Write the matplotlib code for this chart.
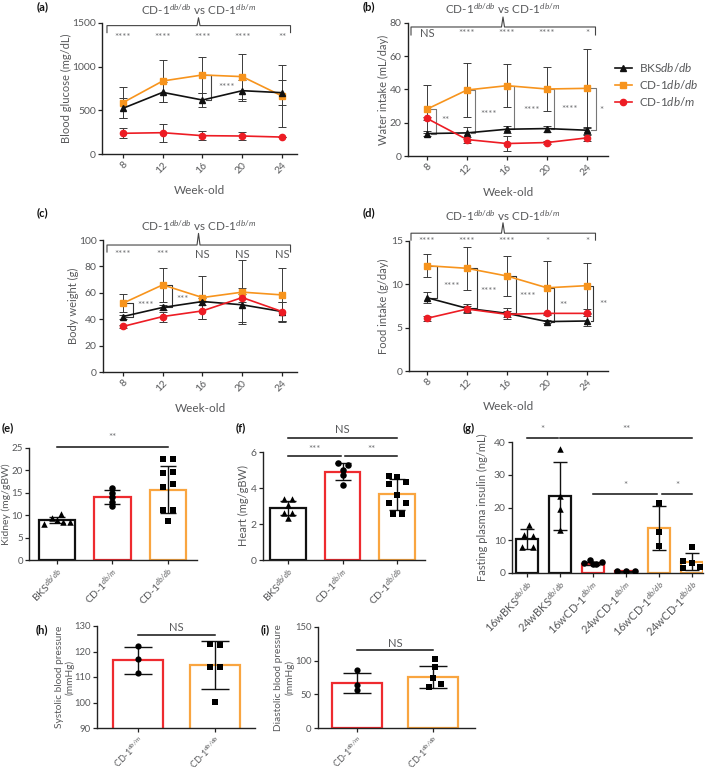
import matplotlib
matplotlib.use('Agg')
import matplotlib.pyplot as plt
import numpy as np
from matplotlib.lines import Line2D

# ---------------- data ----------------
weeks = [8, 12, 16, 20, 24]

# (a) blood glucose (mg/dL)
glu_bks = [523, 706, 618, 725, 702]
glu_bks_err = [115, 115, 85, 120, 145]
glu_dbdb = [588, 836, 905, 886, 664]
glu_dbdb_err = [175, 240, 202, 255, 360]
glu_dbm = [237, 244, 210, 206, 194]
glu_dbm_err = [57, 105, 55, 50, 0]
glu_top_sig = ['****', '****', '****', '****', '**']

# (b) water intake (mL/day)
wat_bks = [13.5, 13.9, 16.1, 16.5, 15.5]
wat_bks_err = [1.5, 3.5, 2.0, 1.8, 2.0]
wat_dbdb = [28.2, 39.7, 42.3, 40.3, 40.7]
wat_dbdb_err = [14.5, 16.5, 12.9, 13.1, 23.6]
wat_dbm = [22.6, 9.9, 7.5, 8.1, 10.9]
wat_dbm_err = [1.0, 1.8, 4.4, 0.8, 1.6]
wat_top_sig = ['NS', '****', '****', '****', '*']
wat_side_sig = ['**', '****', '****', '****', '*']

# (c) body weight (g)
bw_bks = [42.0, 48.9, 53.4, 50.9, 45.8]
bw_bks_err = [1.5, 2.0, 3.0, 13.0, 7.3]
bw_dbdb = [52.1, 66.0, 56.4, 60.5, 58.4]
bw_dbdb_err = [7.0, 12.6, 16.6, 24.4, 20.6]
bw_dbm = [34.5, 42.0, 46.3, 56.4, 45.8]
bw_dbm_err = [1.0, 3.8, 6.5, 3.0, 7.0]
bw_top_sig = ['****', '***', 'NS', 'NS', 'NS']
bw_side_sig = ['****', '***']

# (d) food intake (g/day)
fd_bks = [8.46, 7.23, 6.65, 5.70, 5.77]
fd_bks_err = [0.6, 0.47, 0.6, 0.2, 0.55]
fd_dbdb = [12.15, 11.85, 10.96, 9.6, 9.85]
fd_dbdb_err = [1.35, 2.45, 2.3, 3.1, 2.65]
fd_dbm = [6.08, 7.15, 6.54, 6.65, 6.65]
fd_dbm_err = [0.3, 0.4, 0.35, 0.1, 0.1]
fd_top_sig = ['****', '****', '****', '*', '*']
fd_side_sig = ['****', '****', '****', '**', '**']

# (e) kidney (mg/gBW)
grp3 = [r'BKS$^{db/db}$', r'CD-1$^{db/m}$', r'CD-1$^{db/db}$']
kid_mean = [9.0, 14.0, 15.7]
kid_sd = [0.7, 1.6, 5.3]
kid_pts = [[8.0, 9.3, 10.2, 8.4, 9.0, 8.5],
           [16.0, 15.0, 14.0, 13.0, 12.0],
           [22.6, 22.6, 19.5, 19.7, 16.2, 16.9, 11.2, 11.2, 8.6]]

# (f) heart (mg/gBW)
hrt_mean = [2.88, 4.9, 3.65]
hrt_sd = [0.4, 0.48, 0.87]
hrt_pts = [[3.4, 3.4, 3.05, 2.6, 2.6, 2.34],
           [5.39, 5.3, 4.98, 4.7, 4.19],
           [4.65, 4.61, 4.24, 4.34, 3.63, 3.14, 3.14, 2.53, 2.53]]

# (g) fasting plasma insulin (ng/mL)
grp6 = [r'16wBKS$^{db/db}$', r'24wBKS$^{db/db}$', r'16wCD-1$^{db/m}$',
        r'24wCD-1$^{db/m}$', r'16wCD-1$^{db/db}$', r'24wCD-1$^{db/db}$']
ins_mean = [10.4, 23.5, 2.85, 0.5, 13.8, 3.5]
ins_sd = [3.0, 10.4, 0.4, 0.1, 6.8, 2.6]
ins_pts = [[14.8, 11.6, 11.3, 7.8, 7.9],
           [38.0, 23.5, 19.5, 13.0],
           [3.0, 4.1, 2.9, 3.4, 2.6],
           [0.6, 0.6, 0.6],
           [21.5, 12.4, 8.2],
           [7.8, 3.8, 3.0, 1.5, 1.9]]

# (h) systolic / (i) diastolic blood pressure (mmHg)
grp2 = [r'CD-1$^{db/m}$', r'CD-1$^{db/db}$']
sbp_mean = [116.6, 114.7]
sbp_sd = [5.3, 9.3]
sbp_pts = [[122.2, 116.9, 111.7], [123.1, 122.7, 114.0, 114.0, 100.1]]
dbp_mean = [67.4, 76.2]
dbp_sd = [14.7, 16.5]
dbp_pts = [[86.0, 64.0, 56.6], [101.8, 90.0, 73.8, 65.0, 61.5]]

# ---------------- layout / style constants ----------------
kid_off = [[-0.23, -0.08, 0.08, 0.24, 0.0, 0.12], [0, 0, 0, 0, 0],
           [-0.09, 0.09, -0.09, 0.09, -0.09, 0.09, -0.09, 0.09, 0.0]]
hrt_off = [[-0.07, 0.08, 0.0, -0.07, 0.08, 0.0], [-0.09, 0.09, 0, 0, 0],
           [-0.15, 0.0, -0.15, 0.16, 0.0, -0.15, 0.16, -0.08, 0.08]]
ins_off = [[0.05, -0.1, 0.18, -0.15, 0.18], [0, 0, 0, 0],
           [-0.27, -0.1, 0.08, 0.27, 0.0], [-0.27, 0, 0.27], [0, 0, 0],
           [0.0, -0.27, 0.0, -0.27, 0.24]]
sbp_off = [[0, 0, 0], [-0.06, 0.06, -0.06, 0.06, 0.0]]
dbp_off = [[0, 0, 0], [0.02, 0.02, 0.0, 0.1, -0.06]]

BLACK = '#111111'
ORANGE = '#F7941D'
RED = '#ED1C24'
ORANGE_B = '#F9A540'
RED_B = '#EE2B2F'
GRAY = '#58595B'
STAR = '#6D6E71'

plt.rcParams.update({
    'font.family': ['Lato', 'DejaVu Sans'],
    'font.size': 7.5,
    'mathtext.fontset': 'custom',
    'mathtext.rm': 'Lato',
    'mathtext.it': 'Lato:italic',
    'mathtext.bf': 'Lato:bold',
    'axes.linewidth': 1.0,
    'axes.edgecolor': '#222222',
})

W, H = 709, 771
fig = plt.figure(figsize=(W / 100, H / 100), dpi=100)


def add_ax(l, r, t, b):
    return fig.add_axes([l / W, 1 - b / H, (r - l) / W, (b - t) / H])


def style(ax, lsize=7.5):
    ax.spines['top'].set_visible(False)
    ax.spines['right'].set_visible(False)
    ax.tick_params(length=3, width=0.9, colors='#222222', labelcolor=GRAY,
                   labelsize=lsize, pad=1.5)


def set_ylab(ax, text, x, fs=8, ls=1.3):
    ax.set_ylabel(text, color=GRAY, fontsize=fs, linespacing=ls)
    ax.yaxis.set_label_coords(x, 0.5)
    ax.yaxis.label.set_va('center')


def panel_label(txt, x, y):
    fig.text(x / W, 1 - y / H, txt, fontsize=8, fontweight='bold',
             ha='left', va='center', color='#111111')


def line_panel(ax, series, xlim, ylim, yticks, ylabel, ylx, top_sig,
               y_line, y_end, y_peak, y_title, y_stars, side=None):
    style(ax)
    for y, e, c, m in series:
        ax.errorbar(weeks, y, yerr=e, color=c, marker=m, ms=4.5, lw=1.2,
                    ecolor='#3a3a3a', elinewidth=0.7, capsize=3,
                    capthick=0.7, zorder=3)
    ax.set_xlim(*xlim)
    ax.set_ylim(*ylim)
    ax.set_yticks(yticks)
    ax.set_xticks(weeks)
    ax.set_xticklabels([str(w) for w in weeks], rotation=45, ha='right',
                       va='top', rotation_mode='anchor')
    set_ylab(ax, ylabel, ylx)
    ax.set_xlabel('Week-old', color=GRAY, fontsize=8.5)
    ax.xaxis.set_label_coords(0.5, -0.275)
    ax.xaxis.label.set_va('center')
    x0, x1, xm = 6.4, 24.85, 15.6
    ax.plot([x0, x0, xm - 0.15, xm, xm + 0.15, x1, x1],
            [y_end, y_line, y_line, y_peak, y_line, y_line, y_end],
            color='#444444', lw=0.8, clip_on=False)
    ax.text(xm, y_title, r'CD-1$^{db/db}$ vs CD-1$^{db/m}$', ha='center',
            va='center', fontsize=8.5, color=GRAY, clip_on=False)
    for w, s in zip(weeks, top_sig):
        if s == 'NS':
            ax.text(w, y_stars, s, ha='center', va='center', fontsize=8,
                    color=GRAY)
        else:
            ax.text(w, y_stars, s, ha='center', va='center', fontsize=7,
                    color=STAR)
    if side:
        for (w, ya, yb, xv, lab, lx, ly, col) in side:
            ax.plot([w + 0.35, xv, xv, w + 0.35], [ya, ya, yb, yb],
                    color=col, lw=0.8, clip_on=False, zorder=2)
            ax.text(lx, ly, lab, ha='center', va='center', fontsize=7,
                    color=STAR, clip_on=False)


# ---- (a)
ax = add_ax(102, 297, 23, 154)
line_panel(ax, [(glu_dbdb, glu_dbdb_err, ORANGE, 's'),
                (glu_bks, glu_bks_err, BLACK, '^'),
                (glu_dbm, glu_dbm_err, RED, 'o')],
           (5.9, 25.5), (0, 1500), [0, 500, 1000, 1500],
           'Blood glucose (mg/dL)', -0.18, glu_top_sig,
           1470, 1390, 1560, 1650, 1330,
           side=[(16, glu_dbdb[2], glu_bks[2], 16.9, '****', 18.4, 760, '#444444')])
panel_label('(a)', 37, 7)

# ---- (b)
ax = add_ax(408, 608, 23, 156)
gb = '#777777'
sides_b = []
xv_b = [8.9, 12.8, 16.7, 20.7, 24.9]
lx_b = [9.8, 14.2, 18.5, 22.3, 25.4]
ly_b = [21.5, 25.0, 27.5, 28.0, 27.5]
for i, w in enumerate(weeks):
    sides_b.append((w, wat_dbdb[i], wat_bks[i], xv_b[i], wat_side_sig[i],
                    lx_b[i], ly_b[i], gb))
line_panel(ax, [(wat_dbdb, wat_dbdb_err, ORANGE, 's'),
                (wat_bks, wat_bks_err, BLACK, '^'),
                (wat_dbm, wat_dbm_err, RED, 'o')],
           (6.1, 26.1), (0, 80), [0, 20, 40, 60, 80],
           'Water intake (mL/day)', -0.125, wat_top_sig,
           77.6, 72.8, 83.6, 88.5, 73.5, side=sides_b)
handles = [Line2D([], [], color=BLACK, marker='^', ms=4.5, lw=1.2),
           Line2D([], [], color=ORANGE, marker='s', ms=4.5, lw=1.2),
           Line2D([], [], color=RED, marker='o', ms=4.5, lw=1.2)]
ax.legend(handles, [r'BKS$db/db$', r'CD-1$db/db$', r'CD-1$db/m$'],
          loc='upper left', bbox_to_anchor=(1.0, 0.77), frameon=False,
          fontsize=8.5, handlelength=1.4, handletextpad=0.6,
          labelspacing=0.35, labelcolor=GRAY, borderaxespad=0.2)
panel_label('(b)', 363, 7)

# ---- (c)
ax = add_ax(103, 297, 240, 372)
line_panel(ax, [(bw_dbdb, bw_dbdb_err, ORANGE, 's'),
                (bw_bks, bw_bks_err, BLACK, '^'),
                (bw_dbm, bw_dbm_err, RED, 'o')],
           (6.0, 25.5), (0, 100), [0, 20, 40, 60, 80, 100],
           'Body weight (g)', -0.15, bw_top_sig,
           96.2, 90.9, 105, 111, 89.0,
           side=[(8, bw_dbdb[0], bw_bks[0], 9.0, bw_side_sig[0], 10.3, 50.5, '#333333'),
                 (12, bw_dbdb[1], bw_bks[1], 12.9, bw_side_sig[1], 14.0, 55.0, '#333333')])
panel_label('(c)', 37, 213)

# ---- (d)
ax = add_ax(409, 608, 241, 371)
sides_d = []
xv_d = [9.0, 13.0, 16.9, 20.7, 24.6]
lx_d = [10.5, 14.2, 18.1, 21.6, 25.6]
ly_d = [9.8, 9.2, 8.6, 7.6, 7.7]
for i, w in enumerate(weeks):
    sides_d.append((w, fd_dbdb[i], fd_bks[i], xv_d[i], fd_side_sig[i],
                    lx_d[i], ly_d[i], '#333333'))
line_panel(ax, [(fd_dbdb, fd_dbdb_err, ORANGE, 's'),
                (fd_bks, fd_bks_err, BLACK, '^'),
                (fd_dbm, fd_dbm_err, RED, 'o')],
           (6.2, 26.1), (0, 15), [0, 5, 10, 15],
           'Food intake (g/day)', -0.13, fd_top_sig,
           15.9, 15.1, 17.1, 17.9, 14.9, side=sides_d)
panel_label('(d)', 363, 213)


# ---------------- bar panels ----------------
def bar_panel(ax, means, sds, pts, offs, markers, ecs, labels, xlim, ylim,
              yticks, ylabel, ylx, capsize, msize, width=0.65, lfs=7.5,
              yfs=8, tfs=7.5, ls=1.3):
    style(ax, tfs)
    x = np.arange(len(means))
    ax.bar(x, means, width=width, facecolor='white', edgecolor=ecs, lw=1.6,
           zorder=1)
    ax.errorbar(x, means, yerr=sds, fmt='none', ecolor='#111111',
                elinewidth=1.0, capsize=capsize, capthick=1.0, zorder=2)
    for i in range(len(means)):
        ax.scatter(x[i] + np.array(offs[i]), pts[i], marker=markers[i],
                   s=msize, color='#000000', zorder=3, linewidths=0)
    ax.set_xlim(*xlim)
    ax.set_ylim(*ylim)
    ax.set_yticks(yticks)
    ax.set_xticks(x)
    ax.set_xticklabels(labels, rotation=45, ha='right', va='top',
                       rotation_mode='anchor', fontsize=lfs)
    set_ylab(ax, ylabel, ylx, fs=yfs, ls=ls)


def sig_line(ax, xa, xb, y, txt, ty, fs=7, col=STAR):
    ax.plot([xa, xb], [y, y], color='#111111', lw=1.1, clip_on=False)
    ax.text((xa + xb) / 2, ty, txt, ha='center', va='center', fontsize=fs,
            color=col, clip_on=False)


# ---- (e)
ax = add_ax(29, 197, 448, 560)
bar_panel(ax, kid_mean, kid_sd, kid_pts, kid_off, ['^', 'o', 's'],
          [BLACK, RED_B, ORANGE_B], grp3, (-0.5, 2.52), (0, 25),
          [0, 5, 10, 15, 20, 25], 'Kidney (mg/gBW)', -0.137, 6, 22,
          yfs=7.5, tfs=7)
sig_line(ax, 0, 2, 25.3, '**', 27.3)
panel_label('(e)', 2, 428)

# ---- (f)
ax = add_ax(263, 425, 452, 560)
bar_panel(ax, hrt_mean, hrt_sd, hrt_pts, hrt_off, ['^', 'o', 's'],
          [BLACK, RED_B, ORANGE_B], grp3, (-0.46, 2.51), (0, 6),
          [0, 2, 4, 6], 'Heart (mg/gBW)', -0.123, 6, 22)
sig_line(ax, 0, 2, 6.78, 'NS', 7.25, fs=8, col=GRAY)
sig_line(ax, 0, 0.97, 5.78, '***', 6.15)
sig_line(ax, 1.05, 2, 5.78, '**', 6.15)
panel_label('(f)', 236, 428)

# ---- (g)
ax = add_ax(512, 703, 442, 573)
bar_panel(ax, ins_mean, ins_sd, ins_pts, ins_off,
          ['^', '^', 'o', 'o', 's', 's'],
          [BLACK, BLACK, RED_B, RED_B, ORANGE_B, ORANGE_B], grp6,
          (-0.45, 5.33), (0, 40), [0, 10, 20, 30, 40],
          'Fasting plasma insulin (ng/mL)', -0.152, 5, 22, lfs=8)
sig_line(ax, 0, 0.94, 41.2, '*', 43.8)
sig_line(ax, 1.0, 5.0, 41.2, '**', 43.8)
sig_line(ax, 2.0, 3.95, 24.1, '*', 26.6)
sig_line(ax, 4.1, 5.0, 24.1, '*', 26.6)
panel_label('(g)', 463, 428)

# ---- (h)
ax = add_ax(97, 255, 626, 728)
bar_panel(ax, sbp_mean, sbp_sd, sbp_pts, sbp_off, ['o', 's'],
          [RED_B, ORANGE_B], grp2, (-0.53, 1.52), (90, 130),
          [90, 100, 110, 120, 130], 'Systolic blood pressure\n(mmHg)',
          -0.205, 10, 20, lfs=6.5, yfs=7.3, tfs=6.8, ls=1.15)
sig_line(ax, 0, 1, 126.5, 'NS', 129.3, fs=8, col=GRAY)
panel_label('(h)', 36, 630)

# ---- (i)
ax = add_ax(318, 475, 627, 728)
bar_panel(ax, dbp_mean, dbp_sd, dbp_pts, dbp_off, ['o', 's'],
          [RED_B, ORANGE_B], grp2, (-0.51, 1.55), (0, 150),
          [0, 50, 100, 150], 'Diastolic blood pressure\n(mmHg)',
          -0.215, 10, 20, lfs=6.5, yfs=7.3, tfs=6.8, ls=1.15)
sig_line(ax, 0, 1, 115.8, 'NS', 126, fs=8, col=GRAY)
panel_label('(i)', 261, 630)

fig.savefig('out.png', dpi=100)
